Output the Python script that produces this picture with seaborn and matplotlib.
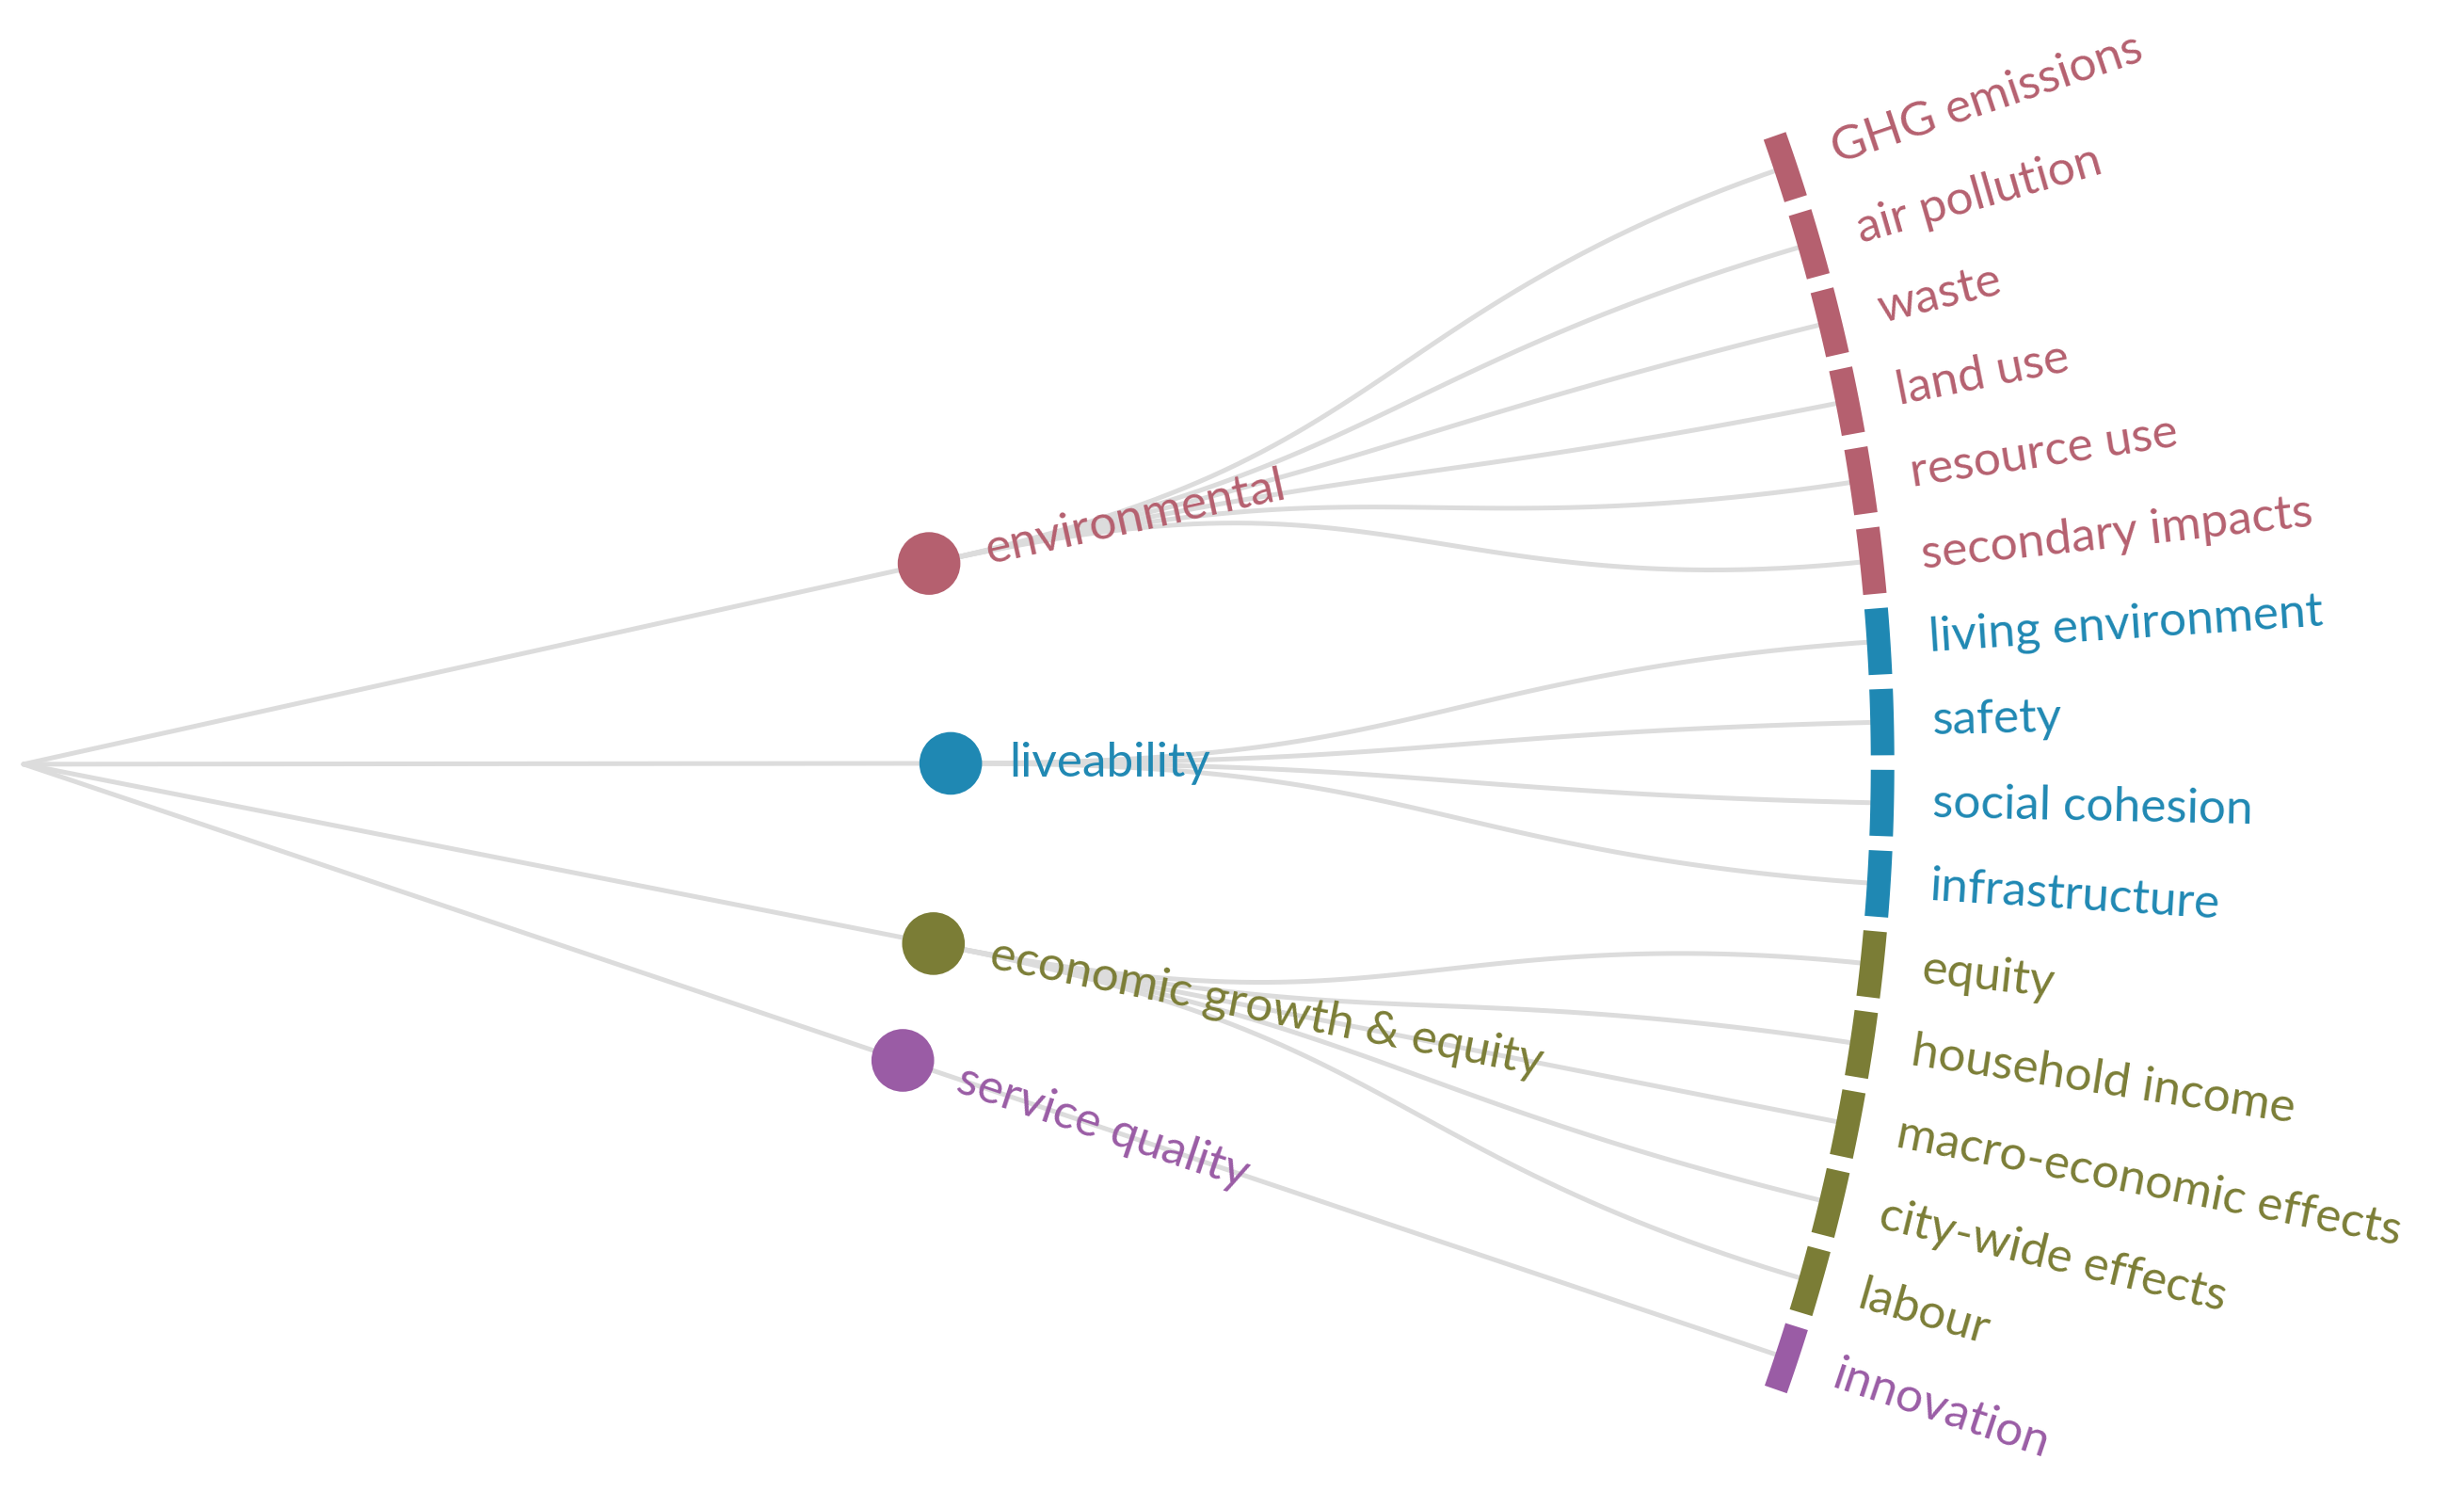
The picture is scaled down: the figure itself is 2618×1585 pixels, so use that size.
import numpy as np
import pandas as pd
import matplotlib.pyplot as plt
import seaborn as sns

sns.set_theme(style="white")
plt.rcParams['font.family'] = ['Lato', 'DejaVu Sans']

# tree data
groups = ["environmental", "liveability", "economic growth & equity", "service quality"]
group_colors = ["#b5606f", "#1f88b3", "#7b7d36", "#9a5ca5"]
leaves = [
    ["GHG emissions", "air pollution", "waste", "land use", "resource use", "secondary impacts"],
    ["living environment", "safety", "social cohesion", "infrastructure"],
    ["equity", "household income", "macro-economic effects", "city-wide effects", "labour"],
    ["innovation"],
]

# layout (display units of a 1568 x 943 canvas)
cx, cy = 15, 483
r_mid, r_leaf = 590, 1183
a_top, a_bot = 18.6, -18.5
n_leaf = sum(len(l) for l in leaves)
leaf_ang = np.linspace(a_top, a_bot, n_leaf)

def pos(a, r):
    t = np.radians(a)
    return cx + r * np.cos(t), cy - r * np.sin(t)

rows = []
nodes = []
leaf_info = []
k = 0
for g, (name, lv) in enumerate(zip(groups, leaves)):
    angs = leaf_ang[k:k + len(lv)]
    ga = angs.mean()
    # root -> group link
    for i, r in enumerate(np.linspace(0, r_mid, 20)):
        x, y = pos(ga, r)
        rows.append(("root-" + name, i, x, y))
    nodes.append((name, ga, group_colors[g]))
    # group -> leaf links (radial bezier)
    rm = (r_mid + r_leaf) / 2
    for j, (leaf, la) in enumerate(zip(lv, angs)):
        P = np.array([[ga, r_mid], [ga, rm], [la, rm], [la, r_leaf]])
        for i, t in enumerate(np.linspace(0, 1, 60)):
            b = ((1 - t) ** 3 * P[0] + 3 * (1 - t) ** 2 * t * P[1]
                 + 3 * (1 - t) * t ** 2 * P[2] + t ** 3 * P[3])
            x, y = pos(b[0], b[1])
            rows.append((name + "-" + leaf, i, x, y))
        leaf_info.append((leaf, la, group_colors[g]))
    k += len(lv)

links = pd.DataFrame(rows, columns=["link", "step", "x", "y"])

fig = plt.figure(figsize=(26.18, 15.85), dpi=100)
ax = fig.add_axes([0, 0, 1, 1])
sns.lineplot(data=links, x="x", y="y", units="link", estimator=None, sort=False,
             color="#dcdcdc", linewidth=3.6, ax=ax, legend=False)

# leaf bars
step = abs(leaf_ang[1] - leaf_ang[0])
for leaf, la, col in leaf_info:
    aa = np.linspace(la - step * 0.41, la + step * 0.41, 10)
    xs, ys = pos(aa, r_leaf)
    ax.plot(xs, ys, color=col, linewidth=18, solid_capstyle="butt", zorder=3)
    tx, ty = pos(la, r_leaf + 32)
    ax.text(tx, ty, leaf, color=col, fontsize=37, rotation=la,
            rotation_mode="anchor", ha="left", va="center", zorder=4)

# group nodes
nd = pd.DataFrame([(pos(a, r_mid)[0], pos(a, r_mid)[1], n) for n, a, c in nodes],
                  columns=["x", "y", "name"])
sns.scatterplot(data=nd, x="x", y="y", hue="name", palette=group_colors,
                s=2300, linewidth=0, ax=ax, legend=False, zorder=5)
for n, a, c in nodes:
    tx, ty = pos(a, r_mid + 37)
    ax.text(tx, ty, n, color=c, fontsize=37, rotation=a,
            rotation_mode="anchor", ha="left", va="center", zorder=6)

ax.set_xlim(0, 1568)
ax.set_ylim(943, 0)
ax.set_aspect("auto")
ax.axis("off")
fig.savefig("out.png", dpi=100, facecolor="white")
